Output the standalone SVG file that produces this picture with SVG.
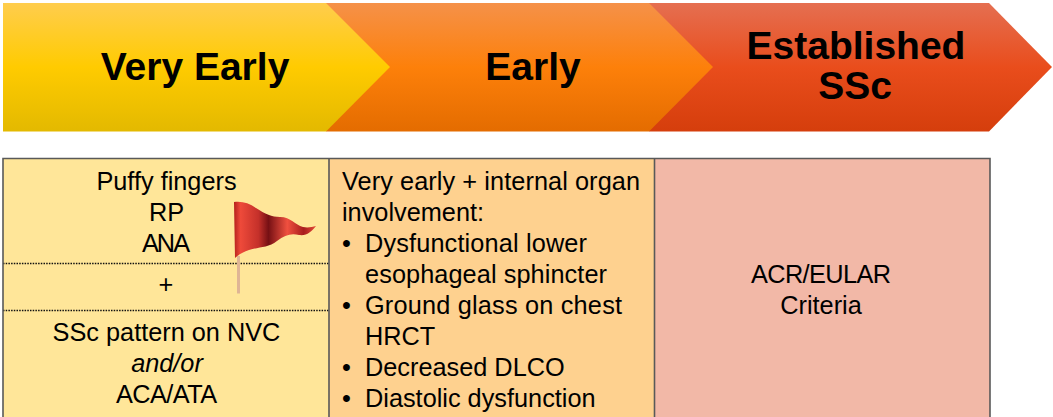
<svg xmlns="http://www.w3.org/2000/svg" width="1053" height="417" viewBox="0 0 1053 417">
<defs>
<linearGradient id="gy" x1="0" y1="0" x2="0" y2="1"><stop offset="0" stop-color="#ffcd4d"/><stop offset="0.5" stop-color="#ffcb00"/><stop offset="1" stop-color="#e3b900"/></linearGradient>
<linearGradient id="go" x1="0" y1="0" x2="0" y2="1"><stop offset="0" stop-color="#f59149"/><stop offset="0.5" stop-color="#fd800a"/><stop offset="1" stop-color="#e46c00"/></linearGradient>
<linearGradient id="gr" x1="0" y1="0" x2="0" y2="1"><stop offset="0" stop-color="#e56f51"/><stop offset="0.5" stop-color="#e94d1c"/><stop offset="1" stop-color="#d53e0c"/></linearGradient>
<linearGradient id="gf" gradientUnits="userSpaceOnUse" x1="234" y1="0" x2="316" y2="0"><stop offset="0" stop-color="#b5201c"/><stop offset="0.08" stop-color="#ee4a3a"/><stop offset="0.3" stop-color="#c4302a"/><stop offset="0.42" stop-color="#761014"/><stop offset="0.65" stop-color="#f0503f"/><stop offset="0.85" stop-color="#a81d1d"/><stop offset="1" stop-color="#e44a38"/></linearGradient>
<style>
.h{font:bold 39px "Liberation Sans",Arial,sans-serif;text-anchor:middle;fill:#000}
.t{font:25.3px "Liberation Sans",Arial,sans-serif;fill:#000}
.c{text-anchor:middle}
.b{stroke:#595959;stroke-width:1.6;fill:none}
.d{stroke:#111;stroke-width:1.6;stroke-dasharray:1.5 1.2;fill:none}
</style>
</defs>
<rect width="1053" height="417" fill="#fff"/>
<g id="stage-established"><path d="M649 3H989L1052 67L989 131.500H649Z" fill="url(#gr)"/><text class="h"><tspan x="856" y="59">Established</tspan><tspan x="855" y="99">SSc</tspan></text></g>
<g id="stage-early"><path d="M326 3H649L713 67L649 131.500H326Z" fill="url(#go)"/><text class="h" x="533" y="80">Early</text></g>
<g id="stage-very-early"><path d="M3 3H326L390 67L326 131.500H3Z" fill="url(#gy)"/><text class="h" x="195" y="80">Very Early</text></g>
<g id="col-very-early"><rect x="3" y="158" width="326" height="260" fill="#ffe699"/>
<g class="t c"><text x="166.500" y="190">Puffy fingers</text><text x="166.500" y="221">RP</text><text x="166" y="252" textLength="48">ANA</text><text x="166" y="293">+</text><text x="166.500" y="341">SSc pattern on NVC</text><text x="167" y="372" font-style="italic">and/or</text><text x="166.500" y="403" textLength="101">ACA/ATA</text></g>
<path class="d" d="M3 263.500H329M3 310.500H329"/>
<g id="flag"><rect x="237" y="256" width="3" height="37.500" fill="#dfb595"/><path d="M234 202C242 201 249 203 256 208C265 214 272 217 280 217C291 217 295 225 303 227C308 228 312 227 316 226C311 232 307 236 299 235C291 233 285 235 277 241C268 248 258 247 249 250C243 252 238 255 235 258Z" fill="url(#gf)"/></g></g>
<g id="col-early"><rect x="329" y="158" width="325.500" height="260" fill="#fed18f"/>
<g class="t"><text x="342" y="190" textLength="298">Very early + internal organ</text><text x="342" y="221">involvement:</text>
<text x="342" y="252">•</text><text x="365" y="252" textLength="222">Dysfunctional lower</text><text x="365" y="283" textLength="242">esophageal sphincter</text>
<text x="342" y="314">•</text><text x="365" y="314" textLength="257">Ground glass on chest</text><text x="365" y="345">HRCT</text>
<text x="342" y="376">•</text><text x="365" y="376">Decreased DLCO</text>
<text x="342" y="407">•</text><text x="365" y="407">Diastolic dysfunction</text></g></g>
<g id="col-established"><rect x="654.500" y="158" width="335.500" height="260" fill="#f2b8a7"/>
<g class="t c"><text x="821" y="283" textLength="140">ACR/EULAR</text><text x="821" y="314">Criteria</text></g></g>
<g id="grid"><path class="b" d="M3 418V158.500H990V418M329 158.500V418M654.500 158.500V418"/></g>
</svg>
